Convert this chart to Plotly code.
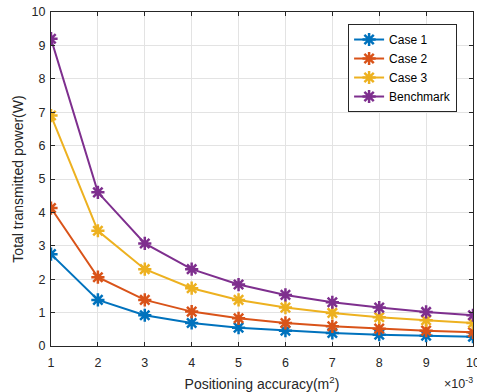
import plotly.graph_objects as go

x = [1, 2, 3, 4, 5, 6, 7, 8, 9, 10]
case1 = [2.75, 1.38, 0.92, 0.69, 0.55, 0.46, 0.39, 0.34, 0.31, 0.28]
case2 = [4.13, 2.06, 1.38, 1.03, 0.83, 0.69, 0.59, 0.52, 0.46, 0.41]
case3 = [6.90, 3.45, 2.30, 1.73, 1.38, 1.15, 0.99, 0.86, 0.77, 0.69]
bench = [9.20, 4.60, 3.07, 2.30, 1.84, 1.53, 1.31, 1.15, 1.02, 0.92]
names = ["Case 1", "Case 2", "Case 3", "Benchmark"]
colors = ["#0072BD", "#D95319", "#EDB120", "#7E2F8E"]

FONT = "Liberation Sans, Arial, Helvetica"

fig = go.Figure()
for name, ys, c in zip(names, [case1, case2, case3, bench], colors):
    fig.add_trace(go.Scatter(
        x=x, y=ys, name=name, mode="lines+markers",
        line=dict(color=c, width=2),
        marker=dict(symbol="asterisk-open", size=11, color=c,
                    line=dict(color=c, width=2.5)),
    ))

axis_common = dict(
    showline=True, linecolor="#262626", linewidth=1, mirror="ticks",
    ticks="inside", ticklen=4, tickcolor="#262626",
    showgrid=True, gridcolor="#E3E3E3", gridwidth=1, zeroline=False,
    tickfont=dict(family=FONT, size=12.5, color="#262626"),
    ticklabeloverflow="allow", automargin=False,
)
fig.update_xaxes(range=[1, 10], tickvals=x, ticklabelstandoff=5, **axis_common,
                 title=dict(text="Positioning accuracy(m<sup>2</sup>)",
                            font=dict(family=FONT, size=14, color="#262626"),
                            standoff=10))
fig.update_yaxes(range=[0, 10], dtick=1, ticklabelstandoff=2, **axis_common,
                 title=dict(text="Total transmitted power(W)",
                            font=dict(family=FONT, size=14, color="#262626"),
                            standoff=4))

fig.add_annotation(text="×10<sup>-3</sup>", xref="paper", yref="paper",
                   x=1.0, y=0, xanchor="left", yanchor="middle",
                   xshift=-31, yshift=-37,
                   showarrow=False,
                   font=dict(family=FONT, size=12.5, color="#262626"))

fig.update_layout(
    width=477, height=392,
    margin=dict(l=51, r=4, t=12, b=46, autoexpand=False),
    paper_bgcolor="white", plot_bgcolor="white",
    legend=dict(x=0.704, y=0.964, xanchor="left", yanchor="top",
                bgcolor="white", bordercolor="#262626", borderwidth=1,
                font=dict(family=FONT, size=12, color="#000000"),
                tracegroupgap=0, itemwidth=30),
    showlegend=True,
)

fig.write_html("out.html")
